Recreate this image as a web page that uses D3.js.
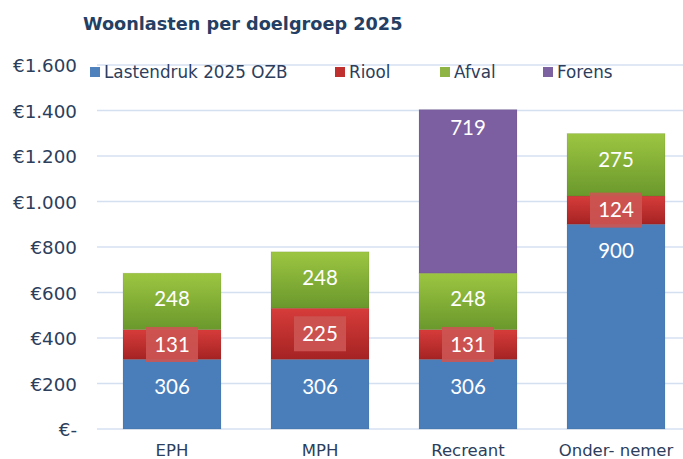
<!DOCTYPE html>
<html>
<head>
<meta charset="utf-8">
<script src="https://cdn.jsdelivr.net/npm/d3@7"></script>
<style>
  html, body { margin: 0; padding: 0; background: #fff; }
  svg { display: block; }
</style>
</head>
<body>
<svg id="chart" width="683" height="459"></svg>
<script>
// Woonlasten per doelgroep 2025 — stacked bars per target group
const categories = ["EPH", "MPH", "Recreant", "Onder- nemer"];
const seriesNames = ["Lastendruk 2025 OZB", "Riool", "Afval", "Forens"];
const ozb    = [306, 306, 306, 900];
const riool  = [131, 225, 131, 124];
const afval  = [248, 248, 248, 275];
const forens = [0, 0, 719, 0];
const yTicks = [0, 200, 400, 600, 800, 1000, 1200, 1400, 1600];

const seriesValues = [ozb, riool, afval, forens];
const rows = categories.map((c, i) => {
  const r = { cat: c };
  seriesNames.forEach((s, j) => r[s] = seriesValues[j][i]);
  return r;
});

const svg = d3.select("#chart");
const defs = svg.append("defs");

// vertical gradients for Riool and Afval segments
function vGrad(id, top, bottom) {
  const g = defs.append("linearGradient").attr("id", id)
    .attr("x1", 0).attr("y1", 0).attr("x2", 0).attr("y2", 1);
  g.append("stop").attr("offset", "0%").attr("stop-color", top);
  g.append("stop").attr("offset", "100%").attr("stop-color", bottom);
}
vGrad("gRiool", "#d63c3a", "#a52323");
vGrad("gAfval", "#9cc641", "#6a982c");

const fills = ["#4a7ebb", "url(#gRiool)", "url(#gAfval)", "#7c5fa0"];
const legendColors = ["#4f81bd", "#c0302f", "#8db445", "#7d62a1"];
const textColor = "#2c3e5c";

const x = d3.scaleBand().domain(categories).range([98, 690])
  .paddingInner(0.338).paddingOuter(0.169);
const y = d3.scaleLinear().domain([0, 1600]).range([429, 65]);

const locale = d3.formatLocale({ decimal: ",", thousands: ".", grouping: [3], currency: ["€", ""] });
const fmt = locale.format(",d");
const tickLabel = v => v === 0 ? "€-" : "€" + fmt(v);

// gridlines
svg.append("g").selectAll("line").data(yTicks).join("line")
  .attr("x1", 97).attr("x2", 683)
  .attr("y1", d => y(d)).attr("y2", d => y(d))
  .attr("stroke", "#d4e0f0").attr("stroke-width", 1.6);

// y axis labels
const yAxis = d3.axisLeft(y).tickValues(yTicks).tickFormat(tickLabel).tickSize(0).tickPadding(0);
const yg = svg.append("g").attr("transform", "translate(77,0)").call(yAxis);
yg.select(".domain").remove();
yg.selectAll("text")
  .attr("font-family", "DejaVu Sans, sans-serif").attr("font-size", 18.3)
  .attr("fill", textColor).attr("dy", "0.36em");

// x axis labels
const xAxis = d3.axisBottom(x).tickSize(0).tickPadding(0);
const xg = svg.append("g").attr("transform", "translate(0,450)").call(xAxis);
xg.select(".domain").remove();
xg.selectAll("text")
  .attr("font-family", "DejaVu Sans, sans-serif").attr("font-size", 16.5)
  .attr("fill", textColor).attr("dy", "0.36em");

// stacked bars
const stack = d3.stack().keys(seriesNames)(rows);
const layers = svg.append("g").selectAll("g").data(stack).join("g")
  .attr("fill", (d, i) => fills[i]);
layers.selectAll("rect").data(d => d.filter(p => p[1] - p[0] > 0)).join("rect")
  .attr("x", d => x(d.data.cat))
  .attr("width", x.bandwidth())
  .attr("y", d => y(d[1]))
  .attr("height", d => y(d[0]) - y(d[1]))
  .attr("stroke", "rgba(0,0,0,0.08)").attr("stroke-width", 1);

// data labels: OZB / Afval / Forens near the segment top, Riool centred in a box
const labelOffset = [27, null, 26, 18];
stack.forEach((layer, si) => {
  const g = svg.append("g");
  layer.filter(p => p[1] - p[0] > 0).forEach(p => {
    const cx = x(p.data.cat) + x.bandwidth() / 2;
    const v = p[1] - p[0];
    let cy;
    if (labelOffset[si] === null) {
      cy = (y(p[0]) + y(p[1])) / 2;
      g.append("rect")
        .attr("x", cx - 26).attr("y", cy - 17.5)
        .attr("width", 52).attr("height", 35)
        .attr("fill", "#cc5553").attr("fill-opacity", 0.9);
    } else {
      cy = y(p[1]) + labelOffset[si];
    }
    g.append("text")
      .attr("x", cx).attr("y", cy).attr("dy", "0.35em")
      .attr("text-anchor", "middle")
      .attr("font-family", "Lato, Open Sans, sans-serif").attr("font-size", 20.5)
      .attr("fill", "#ffffff")
      .text(v);
  });
});

// legend
const legendX = [90, 335, 440, 543];
const lg = svg.append("g");
seriesNames.forEach((s, i) => {
  lg.append("rect").attr("x", legendX[i]).attr("y", 67).attr("width", 10).attr("height", 10)
    .attr("fill", legendColors[i]);
  lg.append("text").attr("x", legendX[i] + 14).attr("y", 72).attr("dy", "0.36em")
    .attr("font-family", "DejaVu Sans, sans-serif").attr("font-size", 16.8)
    .attr("fill", textColor).text(s);
});

// title
svg.append("text").attr("x", 83).attr("y", 30)
  .attr("font-family", "DejaVu Sans, sans-serif").attr("font-weight", "bold")
  .attr("font-size", 17.7).attr("fill", "#243f63")
  .text("Woonlasten per doelgroep 2025");
</script>
</body>
</html>
